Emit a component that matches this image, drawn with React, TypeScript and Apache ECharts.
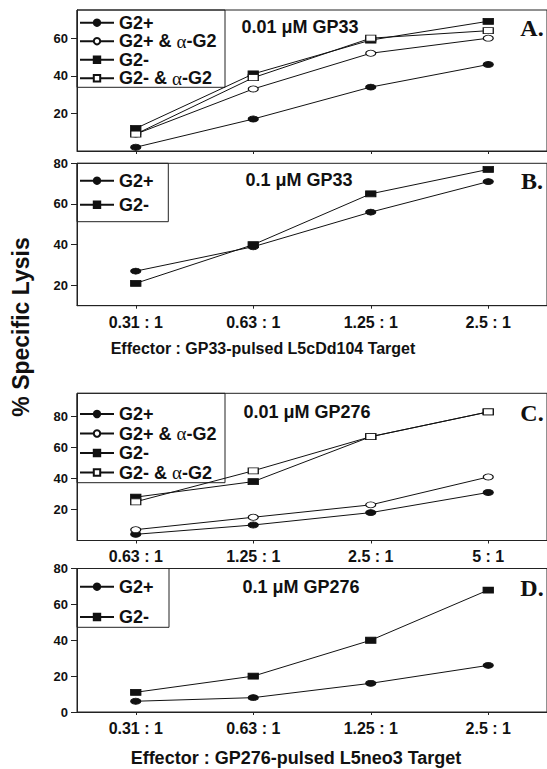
import React, { useEffect, useRef } from 'react';
import * as echarts from 'echarts';

// ---- categories (effector : target ratios) ----
const ratiosA = ['0.31 : 1', '0.63 : 1', '1.25 : 1', '2.5 : 1'];
const ratiosB = ['0.31 : 1', '0.63 : 1', '1.25 : 1', '2.5 : 1'];
const ratiosC = ['0.63 : 1', '1.25 : 1', '2.5 : 1', '5 : 1'];
const ratiosD = ['0.31 : 1', '0.63 : 1', '1.25 : 1', '2.5 : 1'];

// ---- series names ----
const G2P = 'G2+';
const G2P_A = 'G2+ & α-G2';
const G2N = 'G2-';
const G2N_A = 'G2- & α-G2';

// ---- % specific lysis values ----
const aG2pos = [2, 17, 34, 46];
const aG2posAnti = [9, 33, 52, 60];
const aG2neg = [12, 41, 59, 69];
const aG2negAnti = [9, 39, 60, 64];

const bG2pos = [27, 39, 56, 71];
const bG2neg = [21, 40, 65, 77];

const cG2pos = [4, 10, 18, 31];
const cG2posAnti = [7, 15, 23, 41];
const cG2neg = [28, 38, 67, 83];
const cG2negAnti = [25, 45, 67, 83];

const dG2pos = [6, 8, 16, 26];
const dG2neg = [11, 20, 40, 68];

// ---- y tick labels ----
const yTicksA = [20, 40, 60];
const yTicksB = [20, 40, 60, 80];
const yTicksC = [20, 40, 60, 80];
const yTicksD = [0, 20, 40, 60, 80];

// ---- texts ----
const panelNotes = ['0.01 μM GP33', '0.1 μM GP33', '0.01 μM GP276', '0.1 μM GP276'];
const panelLetters = ['A.', 'B.', 'C.', 'D.'];
const xTitleTop = 'Effector : GP33-pulsed L5cDd104 Target';
const xTitleBottom = 'Effector : GP276-pulsed L5neo3 Target';
const yTitle = '% Specific Lysis';

const INK = '#111';
const AXIS = '#222';
const SANS = '"Liberation Sans", Arial, Helvetica, sans-serif';
const SERIF = '"Liberation Serif", "Times New Roman", serif';

type Style = { symbol: string; filled: boolean };
const styles: Record<string, Style> = {
  [G2P]: { symbol: 'circle', filled: true },
  [G2P_A]: { symbol: 'circle', filled: false },
  [G2N]: { symbol: 'rect', filled: true },
  [G2N_A]: { symbol: 'rect', filled: false },
};

function mkSeries(name: string, data: number[], idx: number) {
  const st = styles[name];
  return {
    type: 'line',
    name,
    xAxisIndex: idx,
    yAxisIndex: idx,
    data,
    symbol: st.symbol,
    symbolSize: [10, 6],
    lineStyle: { color: INK, width: 1 },
    itemStyle: {
      color: st.filled ? INK : '#fff',
      borderColor: INK,
      borderWidth: 1,
    },
    emphasis: { disabled: true },
    z: st.filled ? 3 : 4,
  };
}

export default function App() {
  const ref = useRef<HTMLDivElement>(null);

  useEffect(() => {
    if (!ref.current) return;
    const chart = echarts.init(ref.current, null, { renderer: 'svg' });

    const panels = [
      { top: 10, height: 141, min: 0, max: 75, ticks: yTicksA, cats: ratiosA, showX: false, xMargin: 8 },
      { top: 163.3, height: 142.4, min: 10, max: 80, ticks: yTicksB, cats: ratiosB, showX: true, xMargin: 9 },
      { top: 393.3, height: 147.2, min: 0, max: 95, ticks: yTicksC, cats: ratiosC, showX: true, xMargin: 8 },
      { top: 568.5, height: 143.5, min: 0, max: 80, ticks: yTicksD, cats: ratiosD, showX: true, xMargin: 8 },
    ];

    const grid = panels.map((p) => ({
      left: 77,
      top: p.top,
      width: 471,
      height: p.height,
      show: true,
      borderColor: AXIS,
      borderWidth: 1,
      backgroundColor: 'transparent',
      containLabel: false,
    }));

    const xAxis = panels.map((p, i) => ({
      type: 'category',
      gridIndex: i,
      data: p.cats,
      boundaryGap: true,
      axisLine: { lineStyle: { color: AXIS, width: 1 } },
      axisTick: { show: true, alignWithLabel: true, length: 3, lineStyle: { color: AXIS } },
      axisLabel: {
        show: p.showX,
        fontSize: 16,
        fontWeight: 'bold',
        fontFamily: SANS,
        color: INK,
        margin: p.xMargin,
      },
      splitLine: { show: false },
    }));

    const yAxis = panels.map((p, i) => ({
      type: 'value',
      gridIndex: i,
      min: p.min,
      max: p.max,
      axisLine: { show: true, lineStyle: { color: AXIS, width: 1 } },
      axisTick: { show: true, length: 6, customValues: p.ticks, lineStyle: { color: AXIS } },
      axisLabel: {
        customValues: p.ticks,
        fontSize: 13,
        fontWeight: 'bold',
        fontFamily: SANS,
        color: INK,
        margin: 9,
      },
      splitLine: { show: false },
    }));

    const series = [
      mkSeries(G2P, aG2pos, 0),
      mkSeries(G2P_A, aG2posAnti, 0),
      mkSeries(G2N, aG2neg, 0),
      mkSeries(G2N_A, aG2negAnti, 0),
      mkSeries(G2P, bG2pos, 1),
      mkSeries(G2N, bG2neg, 1),
      mkSeries(G2P, cG2pos, 2),
      mkSeries(G2P_A, cG2posAnti, 2),
      mkSeries(G2N, cG2neg, 2),
      mkSeries(G2N_A, cG2negAnti, 2),
      mkSeries(G2P, dG2pos, 3),
      mkSeries(G2N, dG2neg, 3),
    ];

    const legendText = {
      fontSize: 18,
      fontWeight: 'bold',
      fontFamily: SANS,
      color: INK,
      lineHeight: 18,
      rich: {
        a: { fontSize: 19, fontFamily: SERIF, fontWeight: 'normal', color: INK, lineHeight: 18 },
        t: { fontSize: 18, fontFamily: SANS, fontWeight: 'bold', color: INK, lineHeight: 18 },
      },
    };
    const fmt = (n: string) => {
      const parts = n.split('α');
      if (parts.length === 1) return '{t|' + n + '}';
      return '{t|' + parts[0] + '}{a|α}{t|' + parts[1] + '}';
    };
    const mkLegend = (names: string[], top: number, gap: number) => ({
      orient: 'vertical',
      left: 79,
      top,
      itemWidth: 34,
      itemHeight: 8,
      itemGap: gap,
      padding: 0,
      selectedMode: false,
      data: names,
      formatter: fmt,
      textStyle: legendText,
    });

    const legend = [
      mkLegend([G2P, G2P_A, G2N, G2N_A], 13.7, 0),
      mkLegend([G2P, G2N], 171.7, 6),
      mkLegend([G2P, G2P_A, G2N, G2N_A], 405, 1),
      mkLegend([G2P, G2N], 577.7, 12.3),
    ];

    const legendBoxes = [
      { x: 77, y: 10, w: 148, h: 77.3 },
      { x: 77, y: 163.3, w: 91.3, h: 58.4 },
      { x: 77, y: 393.3, w: 148, h: 89.4 },
      { x: 77, y: 568.5, w: 92, h: 58.8 },
    ];
    const noteY = [27, 180, 411.5, 586.7];
    const noteX = [300, 299, 307, 301];

    const graphic: any[] = [];
    legendBoxes.forEach((b) => {
      graphic.push({
        type: 'rect',
        shape: { x: b.x, y: b.y, width: b.w, height: b.h },
        style: { fill: 'none', stroke: AXIS, lineWidth: 1 },
        silent: true,
      });
    });
    panelNotes.forEach((t, i) => {
      graphic.push({
        type: 'text',
        x: noteX[i],
        y: noteY[i],
        style: {
          text: t,
          fontSize: 18,
          fontWeight: 'bold',
          fontFamily: SANS,
          fill: INK,
          align: 'center',
          verticalAlign: 'middle',
        },
      });
      graphic.push({
        type: 'text',
        x: 532,
        y: noteY[i] + 1,
        style: {
          text: panelLetters[i],
          fontSize: 24,
          fontWeight: 'bold',
          fontFamily: SERIF,
          fill: INK,
          align: 'center',
          verticalAlign: 'middle',
        },
      });
    });
    graphic.push({
      type: 'text',
      x: 263,
      y: 348.5,
      style: {
        text: xTitleTop,
        fontSize: 16,
        fontWeight: 'bold',
        fontFamily: SANS,
        fill: INK,
        align: 'center',
        verticalAlign: 'middle',
      },
    });
    graphic.push({
      type: 'text',
      x: 296,
      y: 758,
      style: {
        text: xTitleBottom,
        fontSize: 18,
        fontWeight: 'bold',
        fontFamily: SANS,
        fill: INK,
        align: 'center',
        verticalAlign: 'middle',
      },
    });
    graphic.push({
      type: 'text',
      x: 21,
      y: 327,
      rotation: Math.PI / 2,
      style: {
        text: yTitle,
        fontSize: 23,
        fontWeight: 'bold',
        fontFamily: SANS,
        fill: INK,
        align: 'center',
        verticalAlign: 'middle',
      },
    });

    chart.setOption({
      animation: false,
      backgroundColor: '#fff',
      grid,
      xAxis,
      yAxis,
      series,
      legend,
      graphic,
    });

    return () => chart.dispose();
  }, []);

  return (
    <div
      ref={ref}
      style={{ position: 'absolute', left: 0, top: 0, width: 547, height: 769, background: '#fff' }}
    />
  );
}
